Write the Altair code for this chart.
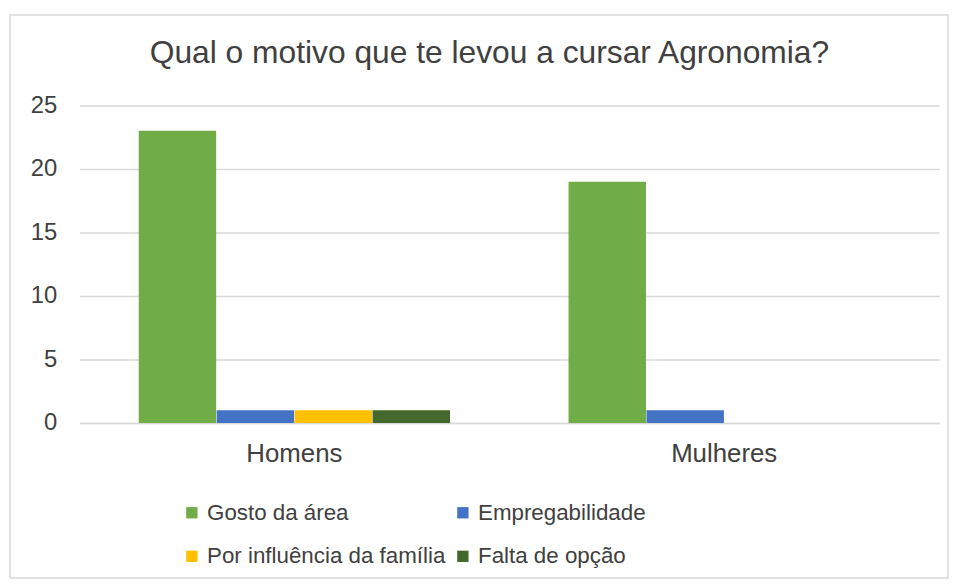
import altair as alt
import pandas as pd

groups = ["Homens", "Mulheres"]
motivos = ["Gosto da área", "Empregabilidade", "Por influência da família", "Falta de opção"]
homens = [23, 1, 1, 1]
mulheres = [19, 1, 0, 0]
cores = ["#70AD47", "#4472C4", "#FFC000", "#43682B"]
y_ticks = [0, 5, 10, 15, 20, 25]
titulo = "Qual o motivo que te levou a cursar Agronomia?"

rows = []
for g, vals in zip(groups, [homens, mulheres]):
    for m, v in zip(motivos, vals):
        rows.append({"grupo": g, "motivo": m, "valor": v})
df = pd.DataFrame(rows)

FONT = "Liberation Sans"
TXT = "#404040"

bars = alt.Chart(df).mark_bar(size=78).encode(
    x=alt.X("grupo:N", sort=groups, title=None,
            scale=alt.Scale(paddingInner=0, paddingOuter=0),
            axis=alt.Axis(labelAngle=0, labelFontSize=26, labelFont=FONT, labelColor=TXT,
                          labelPadding=18, ticks=False, domain=True, domainColor="#D9D9D9",
                          domainWidth=1.5, grid=False)),
    xOffset=alt.XOffset("motivo:N", sort=motivos,
                        scale=alt.Scale(paddingInner=0, paddingOuter=0.757)),
    y=alt.Y("valor:Q", title=None,
            scale=alt.Scale(domain=[0, 25], nice=False),
            axis=alt.Axis(values=y_ticks, labelFontSize=24, labelFont=FONT, labelColor=TXT,
                          labelPadding=23, ticks=False, domain=False, grid=True,
                          gridColor="#D9D9D9", gridWidth=1.5)),
    color=alt.Color("motivo:N", sort=motivos,
                    scale=alt.Scale(domain=motivos, range=cores),
                    legend=alt.Legend(title=None, orient="none", legendX=102, legendY=399,
                                      direction="horizontal", columns=2, padding=0,
                                      symbolType="square", symbolSize=130,
                                      symbolStrokeWidth=0, labelFontSize=22.5, labelFont=FONT,
                                      labelColor=TXT, labelLimit=0, labelOffset=4,
                                      rowPadding=21, columnPadding=6)),
)

frame = alt.Chart(pd.DataFrame({"a": [0]})).mark_rect(
    fillOpacity=0, stroke="#D9D9D9", strokeWidth=1.5
).encode(
    x=alt.value(-70), x2=alt.value(875), y=alt.value(-91), y2=alt.value(476)
)

title = alt.Chart(pd.DataFrame({"t": [titulo]})).mark_text(
    font=FONT, fontSize=32, color=TXT, align="center", baseline="alphabetic"
).encode(
    text="t:N", x=alt.value(413), y=alt.value(-43)
)

chart = alt.layer(frame, bars, title).properties(
    width=866, height=320,
    padding={"left": 1, "top": 4, "right": 0, "bottom": 0},
).configure_view(stroke=None)

chart.save("out.html", embed_options={"renderer": "svg", "actions": False})
